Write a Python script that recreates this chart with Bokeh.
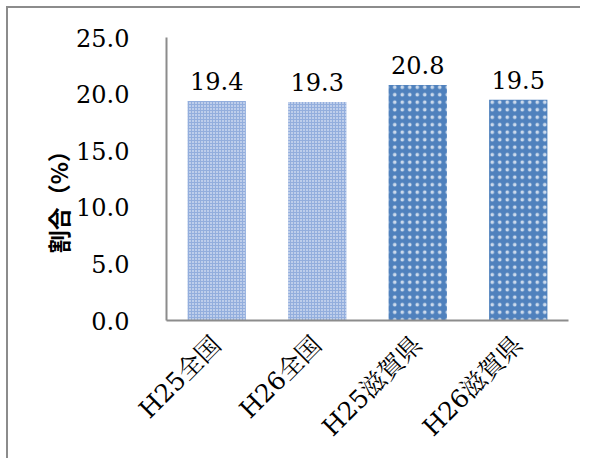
import math
from bokeh.plotting import figure
from bokeh.models import ColumnDataSource, LabelSet, Range1d, FixedTicker, CustomJSTickFormatter
from bokeh.core.properties import value
from bokeh.embed import file_html
from bokeh.resources import INLINE

categories = ["H25全国", "H26全国", "H25滋賀県", "H26滋賀県"]
values = [19.4, 19.3, 20.8, 19.5]
value_labels = ["19.4", "19.3", "20.8", "19.5"]
y_ticks = [0, 5, 10, 15, 20, 25]

fills = ["#93aedd", "#93aedd", "#4f81bd", "#4f81bd"]
hatch_scales = [3.0, 3.0, 7.5, 7.5]
hatch_weights = [1.0, 1.0, 0.6, 0.6]
hatch_alphas = [1.0, 1.0, 0.7, 0.7]

src = ColumnDataSource(dict(cat=categories, val=values, lab=value_labels,
                            fill=fills, hs=hatch_scales, hw=hatch_weights, ha=hatch_alphas))

SERIF = "DejaVu Serif, Noto Serif CJK JP, Noto Sans CJK JP"

p = figure(x_range=categories, y_range=Range1d(0, 25), width=574, height=452,
           output_backend="svg", toolbar_location=None,
           min_border_left=158, min_border_right=14, min_border_top=29, min_border_bottom=140)
p.styles = {"border-left": "2px solid #8c8c8c", "border-top": "2px solid #8c8c8c",
            "margin-left": "6px", "margin-top": "6px"}

p.vbar(x="cat", top="val", width=0.58, source=src, fill_color="fill", line_color=None,
       hatch_pattern="dot", hatch_color="white", hatch_scale="hs", hatch_weight="hw",
       hatch_alpha="ha")

labels = LabelSet(x="cat", y="val", text="lab", source=src, text_align="center",
                  text_baseline="bottom", y_offset=11, text_font_size="24px",
                  text_font=value(SERIF), text_color="#000000")
p.add_layout(labels)

p.outline_line_color = None
p.grid.grid_line_color = None
p.background_fill_color = "white"
p.border_fill_color = "white"

ya = p.yaxis[0]
ya.ticker = FixedTicker(ticks=y_ticks)
ya.formatter = CustomJSTickFormatter(code="return tick.toFixed(1);")
ya.major_tick_line_color = None
ya.minor_tick_line_color = None
ya.axis_line_color = "#8c8c8c"
ya.axis_line_width = 2
ya.major_label_text_font = SERIF
ya.major_label_text_font_size = "24px"
ya.major_label_text_color = "#000000"
ya.major_label_standoff = 31
ya.axis_label = "割合（%）\u3000\u3000"
ya.axis_label_text_font = "Noto Sans CJK JP"
ya.axis_label_text_font_style = "bold"
ya.axis_label_text_font_size = "23px"
ya.axis_label_text_color = "#000000"
ya.axis_label_standoff = -2

xa = p.xaxis[0]
xa.major_tick_line_color = None
xa.minor_tick_line_color = None
xa.axis_line_color = "#8c8c8c"
xa.axis_line_width = 2
xa.major_label_orientation = math.pi / 4
xa.major_label_text_font = SERIF
xa.major_label_text_font_size = "25px"
xa.major_label_text_color = "#000000"
xa.major_label_standoff = 14

open("out.html", "w").write(file_html(p, INLINE))
